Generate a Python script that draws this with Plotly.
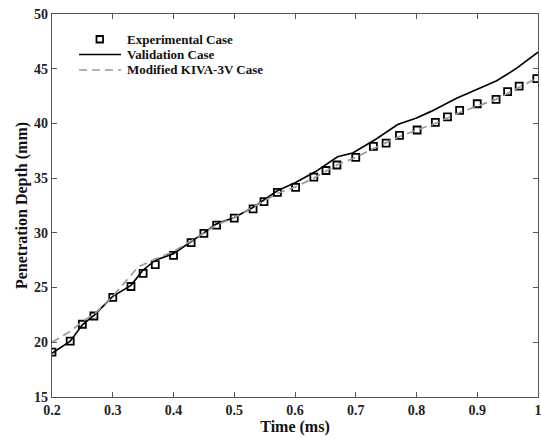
import plotly.graph_objects as go

exp_t = [0.200, 0.230, 0.250, 0.269, 0.300, 0.330, 0.350, 0.370, 0.400, 0.429, 0.450, 0.471, 0.500,
         0.531, 0.549, 0.571, 0.601, 0.631, 0.651, 0.669, 0.700, 0.729, 0.750, 0.772, 0.801, 0.831,
         0.851, 0.871, 0.900, 0.931, 0.950, 0.969, 0.998]
exp_d = [19.1, 20.1, 21.65, 22.4, 24.1, 25.1, 26.3, 27.1, 27.95, 29.1, 29.95, 30.7, 31.35,
         32.2, 32.85, 33.7, 34.15, 35.1, 35.7, 36.2, 36.9, 37.9, 38.2, 38.9, 39.4, 40.1,
         40.6, 41.2, 41.8, 42.2, 42.9, 43.4, 44.1]

val_t = [0.200, 0.230, 0.250, 0.270, 0.300, 0.330, 0.350, 0.370, 0.400, 0.430, 0.450, 0.470, 0.500,
         0.530, 0.571, 0.601, 0.634, 0.670, 0.695, 0.733, 0.769, 0.800, 0.824, 0.866, 0.899, 0.932,
         0.965, 1.000]
val_d = [19.0, 20.1, 21.6, 22.5, 24.2, 25.2, 26.6, 27.5, 28.1, 29.2, 30.0, 30.8, 31.4,
         32.3, 33.85, 34.6, 35.6, 36.95, 37.3, 38.55, 39.9, 40.5, 41.1, 42.3, 43.1, 43.9,
         45.05, 46.5]

mod_t = [0.200, 0.230, 0.250, 0.270, 0.300, 0.342, 0.370, 0.400, 0.430, 0.450, 0.470, 0.500,
         0.530, 0.571, 0.601, 0.631, 0.669, 0.700, 0.729, 0.772, 0.801, 0.831, 0.871, 0.900,
         0.931, 0.969, 1.000]
mod_d = [20.0, 21.0, 21.9, 22.6, 24.2, 26.9, 27.6, 28.3, 29.3, 30.0, 30.7, 31.4,
         32.3, 33.6, 34.2, 35.0, 36.2, 36.9, 37.7, 38.8, 39.4, 40.0, 41.0, 41.6,
         42.2, 43.3, 44.2]

series_names = ["Experimental Case", "Validation Case", "Modified KIVA-3V Case"]

x_ticks = [0.2, 0.3, 0.4, 0.5, 0.6, 0.7, 0.8, 0.9, 1.0]
x_labels = ["0.2", "0.3", "0.4", "0.5", "0.6", "0.7", "0.8", "0.9", "1"]
y_ticks = [15, 20, 25, 30, 35, 40, 45, 50]

FONT = "Liberation Serif"
W, H = 541, 439
ML, MR, MT, MB = 52, 3, 14, 42
PW, PH = W - ML - MR, H - MT - MB
DASH = "8px,5px"


def px(xp):
    return (xp - ML) / PW


def py(yp):
    return (H - MB - yp) / PH


fig = go.Figure()
fig.add_trace(go.Scatter(x=exp_t, y=exp_d, mode="markers", name=series_names[0], showlegend=False,
                         marker=dict(symbol="square-open", size=7, color="black",
                                     line=dict(width=1.8, color="black"))))
fig.add_trace(go.Scatter(x=val_t, y=val_d, mode="lines", name=series_names[1], showlegend=False,
                         line=dict(color="black", width=1.7)))
fig.add_trace(go.Scatter(x=mod_t, y=mod_d, mode="lines", name=series_names[2], showlegend=False,
                         line=dict(color="#999999", width=1.7, dash=DASH)))

# compact legend drawn in paper coordinates
rows_y = [39.5, 54.5, 70]
shapes = [
    dict(type="rect", xref="paper", yref="paper", x0=px(96.5), x1=px(103), y0=py(42.5), y1=py(36),
         line=dict(color="black", width=1.8)),
    dict(type="line", xref="paper", yref="paper", x0=px(79), x1=px(121), y0=py(rows_y[1]), y1=py(rows_y[1]),
         line=dict(color="black", width=1.7)),
    dict(type="line", xref="paper", yref="paper", x0=px(79), x1=px(121), y0=py(rows_y[2]), y1=py(rows_y[2]),
         line=dict(color="#999999", width=1.7, dash=DASH)),
]
annotations = [
    dict(xref="paper", yref="paper", x=px(125), y=py(ry), xanchor="left", yanchor="middle",
         text=f"<b>{name}</b>", showarrow=False,
         font=dict(family=FONT, size=13, color="#111111"))
    for name, ry in zip(series_names, rows_y)
]

axis_common = dict(showline=True, linecolor="#555555", linewidth=1.2, mirror="ticks",
                   ticks="inside", ticklen=5, tickcolor="#555555", showgrid=False,
                   zeroline=False, automargin=False, ticklabeloverflow="allow",
                   tickfont=dict(family=FONT, size=14, color="#222222"))

fig.update_layout(
    width=W, height=H,
    margin=dict(l=ML, r=MR, t=MT, b=MB, autoexpand=False),
    paper_bgcolor="white", plot_bgcolor="white",
    font=dict(family=FONT, color="#111111"),
    xaxis=dict(range=[0.2, 1.0], tickvals=x_ticks, ticktext=[f"<b>{s}</b>" for s in x_labels],
               title=dict(text="<b>Time (ms)</b>", font=dict(family=FONT, size=16), standoff=2),
               **axis_common),
    yaxis=dict(range=[15, 50], tickvals=y_ticks, ticktext=[f"<b>{v}</b>" for v in y_ticks],
               title=dict(text="<b>Penetration Depth (mm)</b>", font=dict(family=FONT, size=16), standoff=2),
               **axis_common),
    shapes=shapes,
    annotations=annotations,
    showlegend=False,
)

fig.write_html("out.html", config={"displayModeBar": False},
               post_script="document.body.style.margin='0';document.body.style.overflow='hidden';")
